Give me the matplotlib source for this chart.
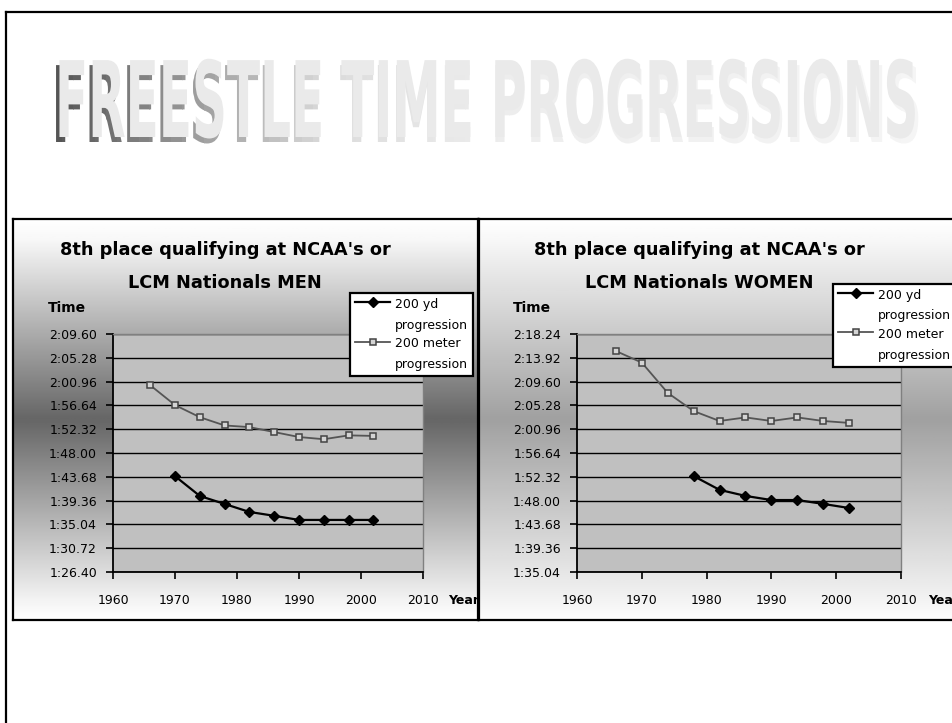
import numpy as np
import matplotlib
matplotlib.use("Agg")
import matplotlib.pyplot as plt
from matplotlib import patheffects
from matplotlib.lines import Line2D
from matplotlib.transforms import Affine2D, Bbox
from matplotlib.ticker import FixedLocator, FuncFormatter

# --- data (times in seconds) ---
years_yd_men = [1970, 1974, 1978, 1982, 1986, 1990, 1994, 1998, 2002]
men_yd = [103.8, 100.2, 98.75, 97.3, 96.6, 95.85, 95.85, 95.85, 95.85]
years_m_men = [1966, 1970, 1974, 1978, 1982, 1986, 1990, 1994, 1998, 2002]
men_m = [120.3, 116.7, 114.5, 113.0, 112.7, 111.8, 110.9, 110.5, 111.2, 111.1]

years_yd_women = [1978, 1982, 1986, 1990, 1994, 1998, 2002]
women_yd = [112.45, 109.95, 108.85, 108.1, 108.1, 107.4, 106.65]
years_m_women = [1966, 1970, 1974, 1978, 1982, 1986, 1990, 1994, 1998, 2002]
women_m = [135.15, 133.05, 127.55, 124.25, 122.45, 123.1, 122.45, 123.1, 122.45, 122.1]

men_yticks = [86.40, 90.72, 95.04, 99.36, 103.68, 108.00, 112.32, 116.64, 120.96, 125.28, 129.60]
women_yticks = [95.04, 99.36, 103.68, 108.00, 112.32, 116.64, 120.96, 125.28, 129.60, 133.92, 138.24]
year_ticks = [1960, 1970, 1980, 1990, 2000, 2010]

labels = ["200 yd\nprogression", "200 meter\nprogression"]
main_title = "FREESTLE TIME PROGRESSIONS"
title_men = "8th place qualifying at NCAA's or\nLCM Nationals MEN"
title_women = "8th place qualifying at NCAA's or\nLCM Nationals WOMEN"

W, H = 952, 723
fig = plt.figure(figsize=(W / 100, H / 100), dpi=100)
fig.patch.set_facecolor("white")


def rect(x0, y0, x1, y1):
    # pixel box (top-left origin) -> figure fraction
    return [x0 / W, 1 - y1 / H, (x1 - x0) / W, (y1 - y0) / H]


def fmt_time(v, pos=None):
    m = int(v // 60)
    s = v - 60 * m
    return f"{m}:{s:05.2f}"


# outer slide frame
fig.add_artist(Line2D([6 / W, 6 / W], [0, 1 - 12 / H], color="k", lw=1.6, transform=fig.transFigure))
fig.add_artist(Line2D([6 / W, 1], [1 - 12 / H, 1 - 12 / H], color="k", lw=1.6, transform=fig.transFigure))


class StretchShadow(patheffects.AbstractPathEffect):
    """vertical stretch + perspective shadow fading left -> right"""

    def __init__(self, sy, dy, spread, gx, gv, nband=80):
        super().__init__()
        self.sy, self.dy, self.spread = sy, dy, spread
        self.gx, self.gv, self.nband = gx, gv, nband

    def draw_path(self, renderer, gc, tpath, affine, rgbFace=None):
        base = Affine2D().scale(1.0, self.sy) + affine
        ext = tpath.get_extents(base)
        cx = 0.5 * (ext.x0 + ext.x1)
        shadow = base + Affine2D().translate(-cx, 0).scale(self.spread, 1).translate(cx, -self.dy)
        edges = np.linspace(ext.x0 - 8, ext.x1 + 8, self.nband + 1)
        for a, b in zip(edges[:-1], edges[1:]):
            g = float(np.interp(0.5 * (a + b), self.gx, self.gv))
            gc0 = renderer.new_gc()
            gc0.copy_properties(gc)
            gc0.set_clip_rectangle(Bbox.from_extents(a, 0, b + 0.6, renderer.height))
            gc0.set_linewidth(0)
            renderer.draw_path(gc0, tpath, shadow, (g, g, g))
            gc0.restore()
        renderer.draw_path(gc, tpath, base, rgbFace)


# big title
t = fig.text(55 / W, 1 - 137 / H, main_title, ha="left", va="baseline",
             fontsize=40, fontweight="bold", color="#eaeaea",
             family=["Liberation Sans Narrow", "DejaVu Sans"])
fig.canvas.draw()
w0 = t.get_window_extent().width
fs = 40 * 863 / w0
t.set_fontsize(fs)
cap = 0.73 * fs * 100 / 72
t.set_path_effects([StretchShadow(77 / cap, 5, 1.008,
                                  [55, 200, 330, 500, 918],
                                  [0.33, 0.62, 0.86, 0.93, 0.96])])


def chart(box, plot, grad, title, tcx, xd_yd, yd, xd_m, ym, yticks, legend_xy, time_x, year_x):
    bg = fig.add_axes(rect(*box))
    pos = np.linspace(0, 1, 200)
    lev = np.interp(pos, [0, 0.05, 0.5, 0.95, 1], grad)
    bg.imshow(lev[:, None], cmap="gray", vmin=0, vmax=1, aspect="auto", extent=[0, 1, 0, 1])
    bg.set_xlim(0, 1)
    bg.set_ylim(0, 1)
    bg.set_xticks([])
    bg.set_yticks([])
    for s in bg.spines.values():
        s.set_linewidth(1.6)
        s.set_color("k")

    l1, l2 = title.split("\n")
    fig.text(tcx / W, 1 - 250 / H, l1, ha="center", va="center", fontsize=12.8, fontweight="bold")
    fig.text(tcx / W, 1 - 283 / H, l2, ha="center", va="center", fontsize=12.8, fontweight="bold")
    fig.text(time_x / W, 1 - 308 / H, "Time", ha="left", va="center", fontsize=10, fontweight="bold")
    bg.text(year_x / W, 1 - 600 / H, "Year", ha="left", va="center", fontsize=9,
            fontweight="bold", transform=fig.transFigure, clip_on=True)

    ax = fig.add_axes(rect(*plot))
    ax.set_facecolor("#c0c0c0")
    ax.plot(xd_yd, yd, color="k", lw=1.6, marker="D", ms=5.5, label=labels[0], zorder=3)
    ax.plot(xd_m, ym, color="#555555", lw=1.3, marker="s", ms=4.8, mfc="#d4d4d4",
            mec="#444444", mew=1.1, label=labels[1], zorder=3)
    ax.set_xlim(1960, 2010)
    ax.set_ylim(yticks[0], yticks[-1])
    ax.xaxis.set_major_locator(FixedLocator(year_ticks))
    ax.yaxis.set_major_locator(FixedLocator(yticks))
    ax.yaxis.set_major_formatter(FuncFormatter(fmt_time))
    ax.yaxis.grid(True, color="k", lw=1)
    ax.set_axisbelow(True)
    ax.tick_params(axis="y", direction="out", length=5, width=1.2, pad=6.5, labelsize=9)
    ax.tick_params(axis="x", direction="out", length=5, width=1.2, pad=11, labelsize=9)
    ax.spines["left"].set_linewidth(1.3)
    ax.spines["bottom"].set_linewidth(1.3)
    for s in ("top", "right"):
        ax.spines[s].set_color("#808080")
        ax.spines[s].set_linewidth(1)

    leg = ax.legend(loc="upper left", bbox_to_anchor=(legend_xy[0] / W, 1 - legend_xy[1] / H),
                    bbox_transform=fig.transFigure, borderaxespad=0, frameon=True,
                    fancybox=False, edgecolor="k", framealpha=1, fontsize=9,
                    handlelength=2.8, handletextpad=0.4, borderpad=0.4, labelspacing=0.45)
    leg.get_frame().set_linewidth(1.6)
    for txt in leg.get_texts():
        txt.set_linespacing(1.75)
    try:
        for col in leg._legend_handle_box.get_children():
            for row in col.get_children():
                row.align = "top"
    except Exception:
        pass
    return ax


chart((13, 219, 478, 620), (113, 334, 423, 572), [1.0, 0.97, 0.40, 0.95, 1.0],
      title_men, 225, years_yd_men, men_yd, years_m_men, men_m, men_yticks,
      (350, 293), 48, 448)
chart((479, 219, 960, 620), (577, 334, 901, 572), [1.0, 0.97, 0.63, 0.95, 0.99],
      title_women, 699, years_yd_women, women_yd, years_m_women, women_m, women_yticks,
      (833, 284), 513, 928)

fig.savefig("out.png", dpi=100)
